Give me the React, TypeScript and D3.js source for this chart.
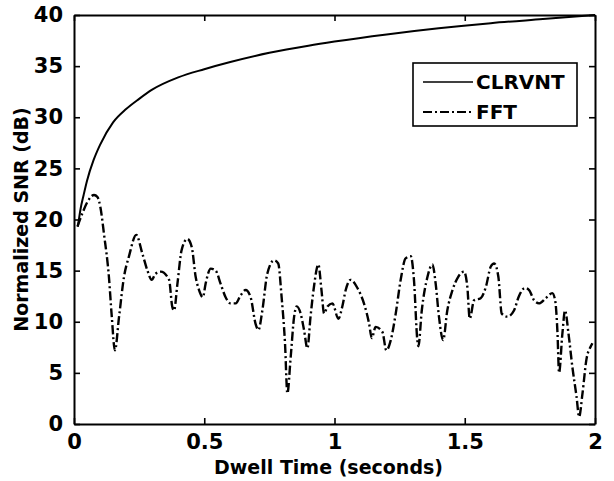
import React, { useEffect, useRef } from 'react';
import * as d3 from 'd3';

// values
const clrvntTime = [0.015, 0.025, 0.037, 0.05, 0.075, 0.1, 0.15, 0.2, 0.25, 0.3, 0.4, 0.5, 0.6, 0.75, 0.9, 1.0, 1.2, 1.4, 1.6, 1.8, 2.0];
const clrvntSnr = [19.3, 21.0, 22.4, 23.8, 25.8, 27.3, 29.5, 30.8, 31.8, 32.7, 33.9, 34.7, 35.4, 36.3, 37.0, 37.4, 38.1, 38.7, 39.2, 39.6, 40.0];

const fftTime = [
  0.013, 0.032, 0.051, 0.077, 0.09, 0.102, 0.115, 0.134, 0.145, 0.157, 0.173, 0.192, 0.211, 0.239, 0.262, 0.282,
  0.298, 0.313, 0.333, 0.365, 0.377, 0.384, 0.397, 0.413, 0.435, 0.452, 0.467, 0.48, 0.495, 0.505, 0.525, 0.544,
  0.563, 0.582, 0.601, 0.621, 0.64, 0.659, 0.678, 0.697, 0.708, 0.723, 0.742, 0.768, 0.784, 0.797, 0.81, 0.819,
  0.832, 0.845, 0.855, 0.87, 0.883, 0.896, 0.908, 0.921, 0.938, 0.95, 0.96, 0.973, 0.992, 1.015, 1.03, 1.043,
  1.062, 1.088, 1.113, 1.133, 1.143, 1.158, 1.184, 1.199, 1.216, 1.235, 1.254, 1.273, 1.293, 1.305, 1.318, 1.322,
  1.335, 1.357, 1.376, 1.388, 1.401, 1.417, 1.433, 1.453, 1.475, 1.497, 1.51, 1.519, 1.536, 1.561, 1.581, 1.6,
  1.613, 1.629, 1.642, 1.664, 1.689, 1.708, 1.731, 1.747, 1.766, 1.785, 1.811, 1.836, 1.847, 1.856, 1.862, 1.875,
  1.885, 1.898, 1.913, 1.929, 1.939, 1.952, 1.967, 1.984, 1.99
];
const fftSnr = [
  19.3, 20.6, 21.7, 22.4, 22.2, 21.1, 18.6, 14.4, 10.5, 7.2, 10.5, 14.4, 16.4, 18.5, 16.7, 15.0,
  14.1, 14.7, 14.9, 14.1, 11.5, 11.1, 13.7, 17.0, 18.1, 17.3, 14.4, 13.1, 12.4, 13.7, 15.2, 15.0,
  13.7, 12.4, 11.8, 11.8, 12.6, 13.1, 12.4, 9.8, 9.2, 11.1, 14.7, 16.0, 15.7, 12.4, 7.9, 3.0,
  6.6, 10.5, 11.5, 10.8, 9.2, 7.4, 10.5, 13.4, 15.6, 13.1, 10.8, 11.5, 11.8, 10.3, 11.5, 13.1,
  14.1, 13.3, 11.8, 9.8, 8.4, 9.5, 9.0, 7.2, 8.2, 10.8, 14.1, 16.2, 16.4, 14.1, 8.2, 7.6,
  11.1, 14.4, 15.6, 13.8, 10.5, 8.2, 11.1, 13.1, 14.4, 14.9, 13.4, 10.3, 12.1, 12.3, 13.4, 15.4,
  15.7, 14.4, 10.8, 10.5, 11.1, 12.5, 13.3, 13.1, 12.1, 11.8, 12.3, 12.8, 12.1, 8.9, 5.0, 8.9,
  11.1, 8.9, 5.6, 2.7, 0.7, 3.0, 6.3, 7.6, 7.9
];

const xTicks = [0, 0.5, 1, 1.5, 2];
const yTicks = [0, 5, 10, 15, 20, 25, 30, 35, 40];
const seriesNames = ['CLRVNT', 'FFT'];

const width = 614;
const height = 481;
const margin = { left: 74, right: 19, top: 15, bottom: 57 };
const font = '"DejaVu Sans", Verdana, sans-serif';
const fftDash = '9,3,2,3';

export default function App() {
  const svgRef = useRef<SVGSVGElement>(null);

  useEffect(() => {
    const svg = d3.select(svgRef.current);
    svg.selectAll('*').remove();

    const x0 = margin.left;
    const x1 = width - margin.right;
    const y0 = height - margin.bottom;
    const y1 = margin.top;

    const x = d3.scaleLinear().domain([0, 2]).range([x0, x1]);
    const y = d3.scaleLinear().domain([0, 40]).range([y0, y1]);

    const styleAxis = (g: any) => {
      g.attr('font-family', font).attr('font-size', 21).attr('font-weight', 'bold');
      g.select('.domain').attr('stroke', '#000').attr('stroke-width', 2);
      g.selectAll('.tick line').attr('stroke', '#000').attr('stroke-width', 1.6);
      g.selectAll('text').attr('fill', '#000');
    };

    // bottom and left axes with labels, ticks pointing inwards
    svg.append('g')
      .attr('transform', `translate(0, ${y0})`)
      .call(d3.axisBottom(x).tickValues(xTicks).tickSize(-6).tickSizeOuter(0).tickPadding(10).tickFormat(d3.format('')))
      .call(styleAxis);

    svg.append('g')
      .attr('transform', `translate(${x0}, 0)`)
      .call(d3.axisLeft(y).tickValues(yTicks).tickSize(-6).tickSizeOuter(0).tickPadding(11).tickFormat(d3.format('')))
      .call(styleAxis);

    // top and right: ticks only
    svg.append('g')
      .attr('transform', `translate(0, ${y1})`)
      .call(d3.axisTop(x).tickValues(xTicks).tickSize(-6).tickSizeOuter(0).tickFormat(() => ''))
      .call(styleAxis);

    svg.append('g')
      .attr('transform', `translate(${x1}, 0)`)
      .call(d3.axisRight(y).tickValues(yTicks).tickSize(-6).tickSizeOuter(0).tickFormat(() => ''))
      .call(styleAxis);

    // lines
    const clrvnt = clrvntTime.map((t, i) => [t, clrvntSnr[i]] as [number, number]);
    const fft = fftTime.map((t, i) => [t, fftSnr[i]] as [number, number]);

    const line = d3.line<[number, number]>()
      .x(d => x(d[0]))
      .y(d => y(d[1]))
      .curve(d3.curveMonotoneX);

    svg.append('path')
      .datum(clrvnt)
      .attr('fill', 'none')
      .attr('stroke', '#000')
      .attr('stroke-width', 2)
      .attr('d', line);

    svg.append('path')
      .datum(fft)
      .attr('fill', 'none')
      .attr('stroke', '#000')
      .attr('stroke-width', 2.4)
      .attr('stroke-dasharray', fftDash)
      .attr('d', line);

    // axis titles
    svg.append('text')
      .attr('x', (x0 + x1) / 2 - 6)
      .attr('y', 474)
      .attr('text-anchor', 'middle')
      .attr('font-family', font)
      .attr('font-weight', 'bold')
      .attr('font-size', 19)
      .text('Dwell Time (seconds)');

    svg.append('text')
      .attr('transform', `translate(28, ${(y0 + y1) / 2}) rotate(-90)`)
      .attr('text-anchor', 'middle')
      .attr('font-family', font)
      .attr('font-weight', 'bold')
      .attr('font-size', 19)
      .text('Normalized SNR (dB)');

    // legend
    const legend = svg.append('g');
    legend.append('rect')
      .attr('x', 413)
      .attr('y', 63)
      .attr('width', 164)
      .attr('height', 63)
      .attr('fill', '#fff')
      .attr('stroke', '#000')
      .attr('stroke-width', 1.6);

    seriesNames.forEach((name, i) => {
      const ly = 82 + i * 30;
      legend.append('line')
        .attr('x1', 423)
        .attr('x2', 473)
        .attr('y1', ly)
        .attr('y2', ly)
        .attr('stroke', '#000')
        .attr('stroke-width', i === 0 ? 1.6 : 2)
        .attr('stroke-dasharray', i === 0 ? null : fftDash);
      legend.append('text')
        .attr('x', 476)
        .attr('y', ly + 7)
        .attr('font-family', font)
        .attr('font-weight', 'bold')
        .attr('font-size', 20)
        .text(name);
    });
  }, []);

  return (
    <svg
      ref={svgRef}
      width={width}
      height={height}
      style={{ position: 'absolute', left: 0, top: 0, background: '#fff' }}
    />
  );
}
